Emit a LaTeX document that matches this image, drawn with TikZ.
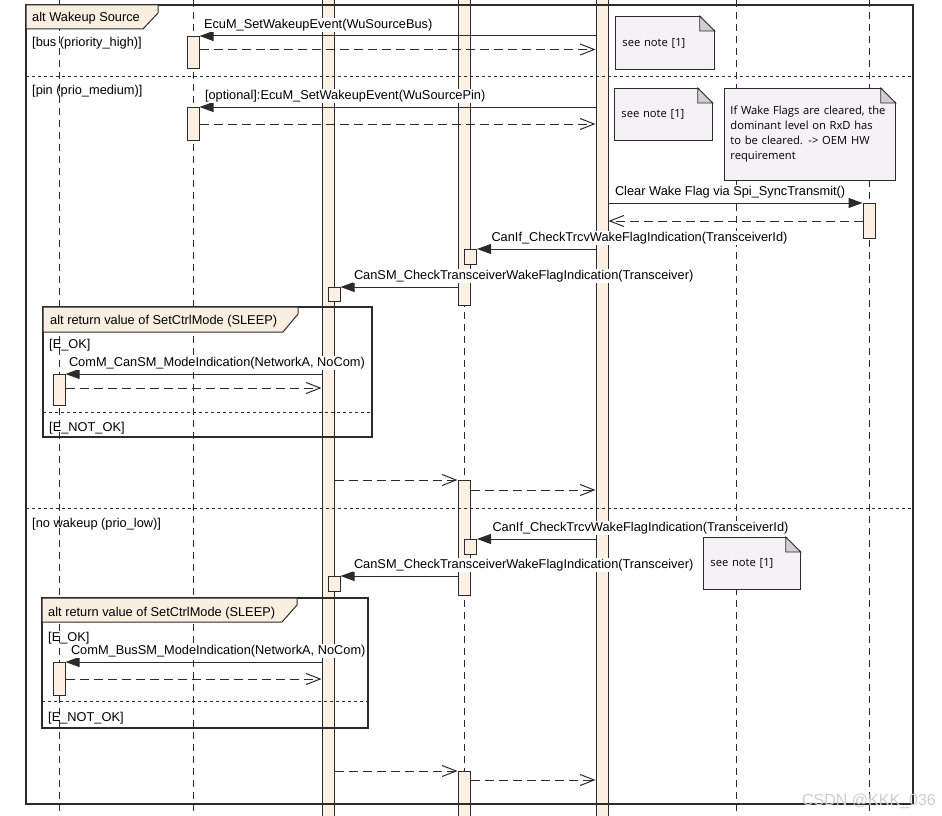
\documentclass[tikz,border=0pt]{standalone}
\usepackage{fontspec}
\setmainfont{Liberation Sans}
\newfontfamily\notefont{Open Sans}
\usetikzlibrary{arrows.meta,calc}
\definecolor{clLine}{HTML}{2B2B2B}
\definecolor{clAct}{HTML}{FBF0E2}
\definecolor{clTab}{HTML}{F9EFE1}
\definecolor{clNote}{HTML}{F5F2F6}
\definecolor{clFold}{HTML}{CFCFCF}
\newcommand\msgfont{\fontsize{12.8}{15}\selectfont}
\newcommand\notesize{\notefont\fontsize{11.2}{15}\selectfont}
% dog-ear on the upper right corner of a note
\newcommand\notefold[1]{%
  \fill[white] ([xshift=-15pt,yshift=1pt]#1.north east) -- ([xshift=1pt,yshift=1pt]#1.north east)
    -- ([xshift=1pt,yshift=-15pt]#1.north east) -- cycle;
  \draw[fold] ([xshift=-15pt]#1.north east) -- ([xshift=-15pt,yshift=-15pt]#1.north east)
    -- ([yshift=-15pt]#1.north east) -- cycle;}
\tikzset{
  lifeline/.style={draw=clLine, line width=1pt, dash pattern=on 7pt off 5pt},
  bar/.style={rectangle, draw=clLine, line width=1pt, fill=clAct, minimum width=12pt,
              inner sep=0pt, anchor=north},
  call/.style={-{Triangle[length=14pt,width=10pt]}, draw=clLine, line width=1pt},
  reply/.style={-{Straight Barb[length=14pt,width=11pt]}, draw=clLine, line width=1pt,
                dash pattern=on 9pt off 5pt},
  msglabel/.style={font=\msgfont, fill=white, inner sep=1pt, anchor=base west},
  guard/.style={font=\msgfont, inner sep=0pt, anchor=base west},
  frame/.style={draw=clLine, line width=1.2pt},
  tab/.style={draw=clLine, line width=1pt, fill=clTab},
  divider/.style={draw=clLine, line width=1pt, dash pattern=on 3pt off 3pt},
  note/.style={rectangle, draw=clLine, line width=0.8pt, fill=clNote, font=\notesize,
               align=left, inner xsep=7pt, inner ysep=0pt, anchor=north west},
  fold/.style={draw=clLine, line width=0.8pt, fill=clFold},
}
\begin{document}
\begin{tikzpicture}[x=1pt, y=-1pt]
  \useasboundingbox (0,0) rectangle (942,816);
  \clip (0,0) rectangle (942,816);
  % lifelines
  \coordinate (comm) at (59,0);
  \coordinate (ecum) at (193,0);
  \coordinate (canif) at (464,0);
  \coordinate (aux) at (736,0);
  \coordinate (spi) at (869,0);
  \draw[lifeline] (comm) -- ++(0,816);
  \draw[lifeline] (ecum) -- ++(0,816);
  \draw[lifeline] (canif) -- ++(0,816);
  \draw[lifeline] (aux) -- ++(0,816);
  \draw[lifeline] (spi) -- ++(0,816);
  % activations
  \node[bar, minimum height=826pt] (cansm) at (328,-5) {};
  \node[bar, minimum height=826pt] (trcv) at (602,-5) {};
  \node[bar, minimum height=310pt] (canifA) at (canif |- 0,-5) {};
  \node[bar, minimum height=115pt] (canifB) at (canif |- 0,480) {};
  \node[bar, minimum height=60pt] (canifC) at (canif |- 0,771) {};
  \node[bar, minimum height=32pt] (ecumA) at (ecum |- 0,36) {};
  \node[bar, minimum height=33pt] (ecumB) at (ecum |- 0,107) {};
  \node[bar, minimum height=35pt] (spiA) at (spi |- 0,203) {};
  \node[bar, minimum height=31pt] (commA) at (comm |- 0,374) {};
  \node[bar, minimum height=33pt] (commB) at (comm |- 0,662) {};
  % outer alt
  \draw[frame] (26,5) rectangle (913,804);
  \draw[tab] (26,5) -- (158,5) -- (158,13) -- (143,29) -- (26,29) -- cycle;
  \node[guard] (altWake) at (32,21.5) {alt Wakeup Source};
  \draw[divider] (26,76) -- (913,76);
  \draw[divider] (26,508) -- (913,508);
  \node[guard] (gBus) at (32,47) {[bus (priority\_high)]};
  \node[guard] (gPin) at (32,95) {[pin (prio\_medium)]};
  \node[guard] (gNone) at (32,527) {[no wakeup (prio\_low)]};
  % inner alt, first
  \draw[frame] (43,307) rectangle (372,437);
  \draw[tab] (43,307) -- (298,307) -- (298,314) -- (283,332) -- (43,332) -- cycle;
  \node[guard] (altRetA) at (50,324.5) {alt return value of SetCtrlMode (SLEEP)};
  \node[guard] (gOkA) at (49,348) {[E\_OK]};
  \draw[divider] (43,412) -- (372,412);
  \node[guard] (gNokA) at (49,431) {[E\_NOT\_OK]};
  % inner alt, second
  \draw[frame] (42,598) rectangle (368,728);
  \draw[tab] (42,598) -- (297,598) -- (297,605) -- (282,622) -- (42,622) -- cycle;
  \node[guard] (altRetB) at (48,616.5) {alt return value of SetCtrlMode (SLEEP)};
  \node[guard] (gOkB) at (48,641) {[E\_OK]};
  \draw[divider] (42,701) -- (368,701);
  \node[guard] (gNokB) at (48,721) {[E\_NOT\_OK]};
  % nested activations
  \node[bar, minimum height=15pt] (canifN1) at (470.5,249) {};
  \node[bar, minimum height=14pt] (cansmN1) at (334,287) {};
  \node[bar, minimum height=15pt] (canifN2) at (470.5,539) {};
  \node[bar, minimum height=15pt] (cansmN2) at (334,576) {};
  % notes
  \node[note, text width=85pt, minimum height=53pt] (n1) at (615,16) {see note [1]};
  \notefold{n1}
  \node[note, text width=84pt, minimum height=52pt] (n2) at (614,88) {see note [1]};
  \notefold{n2}
  \node[note, text width=159pt, inner xsep=6pt, minimum height=92pt] (n3) at (724,88)
    {If Wake Flags are cleared, the\\dominant level on RxD has\\to be cleared. -> OEM HW\\requirement};
  \notefold{n3}
  \node[note, text width=83pt, minimum height=52pt] (n4) at (703,537) {see note [1]};
  \notefold{n4}
  % messages
  \draw[call] (trcv.west |- ecumA.north) -- (ecumA.north east)
    node[msglabel, pos=1, xshift=3pt, yshift=7.5pt] (t1) {EcuM\_SetWakeupEvent(WuSourceBus)};
  \draw[reply] ($(ecumA.east)+(0,-3)$) -- ($(ecumA.east -| trcv.west)+(0,-3)$);
  \draw[call] (trcv.west |- ecumB.north) -- (ecumB.north east)
    node[msglabel, pos=1, xshift=4pt, yshift=7.5pt] (t2) {[optional]:EcuM\_SetWakeupEvent(WuSourcePin)};
  \draw[reply] (ecumB.east) -- (ecumB.east -| trcv.west);
  \draw[call] (trcv.east |- spiA.north) -- (spiA.north west)
    node[msglabel, pos=0, xshift=5pt, yshift=7.5pt] (t3) {Clear Wake Flag via Spi\_SyncTransmit()};
  \draw[reply] (spiA.west) -- (spiA.west -| trcv.east);
  \draw[call] (trcv.west |- canifN1.north) -- (canifN1.north east)
    node[msglabel, pos=1, xshift=13pt, yshift=7.5pt] (t4) {CanIf\_CheckTrcvWakeFlagIndication(TransceiverId)};
  \draw[call] (canifA.west |- cansmN1.north) -- (cansmN1.north east)
    node[msglabel, pos=1, xshift=12pt, yshift=7.5pt] (t5) {CanSM\_CheckTransceiverWakeFlagIndication(Transceiver)};
  \draw[call] (cansm.west |- commA.north) -- (commA.north east)
    node[msglabel, pos=1, xshift=2pt, yshift=7.5pt] (t6) {ComM\_CanSM\_ModeIndication(NetworkA, NoCom)};
  \draw[reply] ($(commA.east)+(0,-2)$) -- ($(commA.east -| cansm.west)+(0,-2)$);
  \draw[reply] (cansm.east |- canifB.north) -- (canifB.north west);
  \draw[reply] ($(canifB.north east)+(0,10)$) -- ($(canifB.north east -| trcv.west)+(0,10)$);
  \draw[call] (trcv.west |- canifN2.north) -- (canifN2.north east)
    node[msglabel, pos=1, xshift=14pt, yshift=7.5pt] (t7) {CanIf\_CheckTrcvWakeFlagIndication(TransceiverId)};
  \draw[call] (canifB.west |- cansmN2.north) -- (cansmN2.north east)
    node[msglabel, pos=1, xshift=12pt, yshift=7.5pt] (t8) {CanSM\_CheckTransceiverWakeFlagIndication(Transceiver)};
  \draw[call] (cansm.west |- commB.north) -- (commB.north east)
    node[msglabel, pos=1, xshift=4pt, yshift=7.5pt] (t9) {ComM\_BusSM\_ModeIndication(NetworkA, NoCom)};
  \draw[reply] (commB.east) -- (commB.east -| cansm.west);
  \draw[reply] (cansm.east |- canifC.north) -- (canifC.north west);
  \draw[reply] ($(canifC.north east)+(0,9)$) -- ($(canifC.north east -| trcv.west)+(0,9)$);
  \node[font=\fontsize{16}{18}\selectfont, text=gray!40] (wm) at (869,801) {CSDN @KKK\_036};
\end{tikzpicture}
\end{document}
